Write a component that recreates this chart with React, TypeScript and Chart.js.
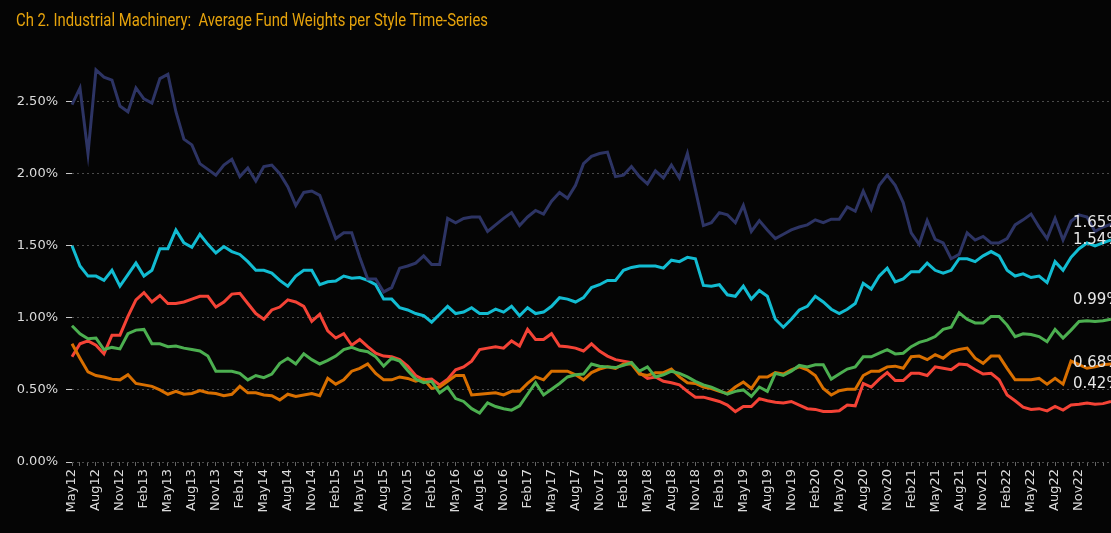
import React, { useEffect, useRef } from 'react';
import { Chart, registerables } from 'chart.js';

Chart.register(...registerables);

const TITLE = 'Ch 2. Industrial Machinery:  Average Fund Weights per Style Time-Series';

const MONTHS = [
  'May12', 'Jun12', 'Jul12', 'Aug12', 'Sep12', 'Oct12', 'Nov12', 'Dec12',
  'Jan13', 'Feb13', 'Mar13', 'Apr13', 'May13', 'Jun13', 'Jul13', 'Aug13', 'Sep13', 'Oct13', 'Nov13', 'Dec13',
  'Jan14', 'Feb14', 'Mar14', 'Apr14', 'May14', 'Jun14', 'Jul14', 'Aug14', 'Sep14', 'Oct14', 'Nov14', 'Dec14',
  'Jan15', 'Feb15', 'Mar15', 'Apr15', 'May15', 'Jun15', 'Jul15', 'Aug15', 'Sep15', 'Oct15', 'Nov15', 'Dec15',
  'Jan16', 'Feb16', 'Mar16', 'Apr16', 'May16', 'Jun16', 'Jul16', 'Aug16', 'Sep16', 'Oct16', 'Nov16', 'Dec16',
  'Jan17', 'Feb17', 'Mar17', 'Apr17', 'May17', 'Jun17', 'Jul17', 'Aug17', 'Sep17', 'Oct17', 'Nov17', 'Dec17',
  'Jan18', 'Feb18', 'Mar18', 'Apr18', 'May18', 'Jun18', 'Jul18', 'Aug18', 'Sep18', 'Oct18', 'Nov18', 'Dec18',
  'Jan19', 'Feb19', 'Mar19', 'Apr19', 'May19', 'Jun19', 'Jul19', 'Aug19', 'Sep19', 'Oct19', 'Nov19', 'Dec19',
  'Jan20', 'Feb20', 'Mar20', 'Apr20', 'May20', 'Jun20', 'Jul20', 'Aug20', 'Sep20', 'Oct20', 'Nov20', 'Dec20',
  'Jan21', 'Feb21', 'Mar21', 'Apr21', 'May21', 'Jun21', 'Jul21', 'Aug21', 'Sep21', 'Oct21', 'Nov21', 'Dec21',
  'Jan22', 'Feb22', 'Mar22', 'Apr22', 'May22', 'Jun22', 'Jul22', 'Aug22', 'Sep22', 'Oct22', 'Nov22', 'Dec22',
  'Jan23', 'Feb23', 'Mar23',
];

// Shown month labels (every third month up to Nov22)
const SHOWN_LABELS = [
  'May12', 'Aug12', 'Nov12', 'Feb13', 'May13', 'Aug13', 'Nov13', 'Feb14', 'May14', 'Aug14', 'Nov14',
  'Feb15', 'May15', 'Aug15', 'Nov15', 'Feb16', 'May16', 'Aug16', 'Nov16', 'Feb17', 'May17', 'Aug17', 'Nov17',
  'Feb18', 'May18', 'Aug18', 'Nov18', 'Feb19', 'May19', 'Aug19', 'Nov19', 'Feb20', 'May20', 'Aug20', 'Nov20',
  'Feb21', 'May21', 'Aug21', 'Nov21', 'Feb22', 'May22', 'Aug22', 'Nov22',
];

const Y_TICKS = [0, 0.5, 1, 1.5, 2, 2.5];

const NAVY_SERIES = [
  2.48, 2.595, 2.14, 2.72, 2.67, 2.65, 2.47, 2.43, 2.595, 2.52,
  2.49, 2.66, 2.69, 2.43, 2.24, 2.20, 2.07, 2.03, 1.99, 2.06,
  2.10, 1.98, 2.04, 1.95, 2.05, 2.06, 2.00, 1.91, 1.78, 1.87,
  1.88, 1.85, 1.70, 1.55, 1.59, 1.59, 1.42, 1.27, 1.27, 1.18,
  1.21, 1.345, 1.36, 1.38, 1.43, 1.37, 1.37, 1.69, 1.66, 1.69,
  1.70, 1.70, 1.60, 1.645, 1.69, 1.73, 1.64, 1.70, 1.745, 1.72,
  1.81, 1.87, 1.83, 1.92, 2.07, 2.12, 2.14, 2.15, 1.98, 1.99,
  2.05, 1.98, 1.93, 2.02, 1.97, 2.06, 1.97, 2.14, 1.89, 1.64,
  1.66, 1.73, 1.715, 1.66, 1.78, 1.60, 1.675, 1.61, 1.55, 1.58,
  1.61, 1.63, 1.645, 1.68, 1.66, 1.685, 1.685, 1.77, 1.74, 1.88,
  1.755, 1.92, 1.99, 1.92, 1.80, 1.59, 1.51, 1.675, 1.545, 1.52,
  1.41, 1.44, 1.59, 1.54, 1.565, 1.52, 1.52, 1.55, 1.645, 1.68,
  1.72, 1.63, 1.55, 1.69, 1.54, 1.67, 1.715, 1.70, 1.60, 1.63,
  1.65,
];

const CYAN_SERIES = [
  1.50, 1.36, 1.29, 1.29, 1.26, 1.33, 1.22, 1.30, 1.38, 1.29,
  1.33, 1.48, 1.48, 1.61, 1.52, 1.49, 1.58, 1.51, 1.45, 1.495,
  1.46, 1.44, 1.39, 1.33, 1.33, 1.31, 1.26, 1.22, 1.29, 1.33,
  1.33, 1.23, 1.25, 1.255, 1.29, 1.275, 1.28, 1.26, 1.23, 1.13,
  1.13, 1.07, 1.055, 1.03, 1.015, 0.97, 1.025, 1.08, 1.03, 1.04,
  1.07, 1.03, 1.03, 1.06, 1.04, 1.08, 1.015, 1.07, 1.03, 1.04,
  1.08, 1.14, 1.13, 1.11, 1.14, 1.21, 1.23, 1.26, 1.26, 1.33,
  1.35, 1.36, 1.36, 1.36, 1.345, 1.40, 1.39, 1.42, 1.41, 1.225,
  1.22, 1.23, 1.16, 1.15, 1.22, 1.13, 1.19, 1.15, 0.99, 0.935,
  0.99, 1.055, 1.08, 1.15, 1.11, 1.06, 1.03, 1.06, 1.10, 1.24,
  1.20, 1.29, 1.345, 1.25, 1.27, 1.32, 1.32, 1.38, 1.33, 1.31,
  1.33, 1.41, 1.41, 1.39, 1.43, 1.46, 1.43, 1.33, 1.29, 1.305,
  1.28, 1.29, 1.245, 1.39, 1.33, 1.42, 1.48, 1.52, 1.50, 1.52,
  1.54,
];

const GREEN_SERIES = [
  0.945, 0.89, 0.855, 0.86, 0.78, 0.795, 0.785, 0.89, 0.915, 0.92,
  0.82, 0.82, 0.80, 0.805, 0.79, 0.78, 0.77, 0.735, 0.63, 0.63,
  0.63, 0.615, 0.57, 0.60, 0.585, 0.61, 0.685, 0.72, 0.68, 0.75,
  0.71, 0.68, 0.705, 0.735, 0.78, 0.795, 0.775, 0.765, 0.73, 0.665,
  0.72, 0.70, 0.635, 0.575, 0.55, 0.56, 0.48, 0.52, 0.44, 0.42,
  0.37, 0.34, 0.41, 0.385, 0.37, 0.36, 0.39, 0.47, 0.55, 0.465,
  0.505, 0.545, 0.59, 0.605, 0.61, 0.68, 0.665, 0.66, 0.655, 0.67,
  0.69, 0.63, 0.66, 0.59, 0.605, 0.63, 0.615, 0.59, 0.56, 0.535,
  0.52, 0.495, 0.47, 0.49, 0.50, 0.455, 0.52, 0.49, 0.615, 0.60,
  0.63, 0.67, 0.66, 0.675, 0.675, 0.575, 0.61, 0.645, 0.66, 0.73,
  0.73, 0.755, 0.78, 0.75, 0.755, 0.80, 0.83, 0.845, 0.87, 0.92,
  0.935, 1.035, 0.99, 0.965, 0.965, 1.01, 1.01, 0.95, 0.87, 0.89,
  0.885, 0.87, 0.835, 0.92, 0.86, 0.915, 0.975, 0.98, 0.975, 0.98,
  0.99,
];

const ORANGE_SERIES = [
  0.82, 0.72, 0.625, 0.60, 0.59, 0.575, 0.57, 0.605, 0.545, 0.535,
  0.525, 0.50, 0.47, 0.49, 0.47, 0.475, 0.495, 0.48, 0.475, 0.46,
  0.47, 0.525, 0.48, 0.48, 0.465, 0.46, 0.43, 0.47, 0.455, 0.465,
  0.475, 0.46, 0.58, 0.54, 0.57, 0.63, 0.65, 0.68, 0.615, 0.57,
  0.57, 0.59, 0.58, 0.56, 0.575, 0.51, 0.52, 0.56, 0.60, 0.60,
  0.465, 0.47, 0.475, 0.48, 0.465, 0.49, 0.49, 0.545, 0.59, 0.57,
  0.63, 0.63, 0.63, 0.605, 0.57, 0.62, 0.645, 0.66, 0.65, 0.68,
  0.68, 0.61, 0.60, 0.62, 0.62, 0.645, 0.59, 0.55, 0.545, 0.52,
  0.51, 0.49, 0.475, 0.52, 0.555, 0.51, 0.59, 0.59, 0.62, 0.61,
  0.64, 0.66, 0.64, 0.60, 0.51, 0.465, 0.495, 0.505, 0.505, 0.60,
  0.63, 0.63, 0.66, 0.665, 0.65, 0.73, 0.735, 0.71, 0.745, 0.72,
  0.765, 0.78, 0.79, 0.72, 0.685, 0.735, 0.735, 0.65, 0.57, 0.57,
  0.57, 0.58, 0.54, 0.58, 0.54, 0.70, 0.675, 0.65, 0.66, 0.675,
  0.68,
];

const RED_SERIES = [
  0.73, 0.82, 0.84, 0.81, 0.75, 0.88, 0.88, 1.01, 1.125, 1.175,
  1.11, 1.155, 1.10, 1.10, 1.11, 1.13, 1.15, 1.15, 1.075, 1.11,
  1.165, 1.17, 1.10, 1.03, 0.99, 1.055, 1.075, 1.125, 1.11, 1.08,
  0.975, 1.025, 0.91, 0.86, 0.89, 0.81, 0.85, 0.80, 0.755, 0.735,
  0.73, 0.71, 0.665, 0.60, 0.57, 0.575, 0.535, 0.575, 0.64, 0.66,
  0.70, 0.78, 0.79, 0.80, 0.79, 0.84, 0.805, 0.92, 0.85, 0.85,
  0.89, 0.805, 0.80, 0.79, 0.77, 0.82, 0.77, 0.735, 0.71, 0.70,
  0.69, 0.62, 0.58, 0.59, 0.56, 0.55, 0.535, 0.49, 0.45, 0.45,
  0.435, 0.42, 0.395, 0.35, 0.385, 0.385, 0.44, 0.425, 0.415, 0.41,
  0.42, 0.395, 0.37, 0.365, 0.35, 0.35, 0.355, 0.395, 0.39, 0.545,
  0.52, 0.575, 0.62, 0.565, 0.565, 0.615, 0.615, 0.60, 0.66, 0.65,
  0.64, 0.68, 0.675, 0.64, 0.61, 0.615, 0.57, 0.465, 0.425, 0.38,
  0.365, 0.37, 0.355, 0.385, 0.36, 0.395, 0.40, 0.41, 0.40, 0.405,
  0.42,
];

const SERIES_NAMES = ['Style 1', 'Style 2', 'Style 3', 'Style 4', 'Style 5'];

const TICK_FONT = "'DejaVu Sans', sans-serif";
const TITLE_FONT = "Roboto, sans-serif";
const TITLE_TARGET_WIDTH = 472;

const bgAndTitle = {
  id: 'bgAndTitle',
  beforeDraw(chart: any) {
    const { ctx, width, height } = chart;
    ctx.save();
    ctx.fillStyle = '#050505';
    ctx.fillRect(0, 0, width, height);
    ctx.font = `19px ${TITLE_FONT}`;
    ctx.fillStyle = '#e6a30c';
    ctx.textBaseline = 'middle';
    ctx.textAlign = 'left';
    const w = ctx.measureText(TITLE).width;
    const sx = w > 0 ? TITLE_TARGET_WIDTH / w : 1;
    ctx.translate(16, 21);
    ctx.scale(sx, 1);
    ctx.fillText(TITLE, 0, 0);
    ctx.restore();
  },
};

const endLabels = {
  id: 'endLabels',
  afterDatasetsDraw(chart: any) {
    const { ctx } = chart;
    ctx.save();
    ctx.font = `15px ${TICK_FONT}`;
    ctx.fillStyle = '#e8e8e8';
    ctx.textBaseline = 'middle';
    ctx.textAlign = 'left';
    chart.data.datasets.forEach((ds: any, di: number) => {
      const meta = chart.getDatasetMeta(di);
      const pt = meta.data[meta.data.length - 1];
      const v = ds.data[ds.data.length - 1];
      ctx.fillText(v.toFixed(2) + '%', pt.x - 38, pt.y + (ds.labelDy || 0));
    });
    ctx.restore();
  },
};

export default function App() {
  const canvasRef = useRef<HTMLCanvasElement | null>(null);

  useEffect(() => {
    document.body.style.margin = '0';
    document.body.style.background = '#050505';
    const canvas = canvasRef.current;
    if (!canvas) return;

    const mk = (label: string, data: number[], color: string, labelDy: number) => ({
      label,
      data,
      borderColor: color,
      backgroundColor: color,
      borderWidth: 3,
      pointRadius: 0,
      pointHoverRadius: 0,
      tension: 0,
      fill: false,
      labelDy,
    });

    const chart = new Chart(canvas, {
      type: 'line',
      data: {
        labels: MONTHS,
        datasets: [
          mk(SERIES_NAMES[0], NAVY_SERIES, '#2d3464', -1),
          mk(SERIES_NAMES[1], CYAN_SERIES, '#12bcd2', 0),
          mk(SERIES_NAMES[2], GREEN_SERIES, '#4caf50', -19),
          mk(SERIES_NAMES[3], ORANGE_SERIES, '#d86f00', -1),
          mk(SERIES_NAMES[4], RED_SERIES, '#f44336', -17),
        ] as any,
      },
      options: {
        responsive: false,
        animation: false,
        maintainAspectRatio: false,
        layout: { padding: { top: 44, left: 0, right: 0, bottom: 0 } },
        plugins: {
          legend: { display: false },
          title: { display: false },
          tooltip: { enabled: false },
        },
        scales: {
          x: {
            type: 'category',
            offset: false,
            grid: {
              display: true,
              drawOnChartArea: false,
              drawTicks: true,
              tickLength: 4,
              tickColor: '#666',
            },
            border: { display: false },
            ticks: {
              autoSkip: false,
              minRotation: 90,
              maxRotation: 90,
              padding: 3,
              color: '#dcdcdc',
              font: { family: TICK_FONT, size: 13 },
              callback: (_v: any, i: number) =>
                SHOWN_LABELS.includes(MONTHS[i]) ? MONTHS[i] : '',
            },
            afterFit: (scale: any) => {
              scale.height = 71;
              scale.paddingLeft = 0;
              scale.paddingRight = 0;
            },
          },
          y: {
            min: 0,
            max: 2.9,
            grid: {
              color: '#4a4a4a',
              lineWidth: 1,
              drawTicks: true,
              tickLength: 6,
              tickColor: '#c8c8c8',
            },
            border: { display: false, dash: [2, 3] },
            ticks: {
              padding: 8,
              color: '#dcdcdc',
              font: { family: TICK_FONT, size: 13 },
              callback: (v: any) => Number(v).toFixed(2) + '%',
            },
            afterBuildTicks: (scale: any) => {
              scale.ticks = Y_TICKS.map((value) => ({ value }));
            },
            afterFit: (scale: any) => {
              scale.width = 72;
              scale.paddingTop = 0;
              scale.paddingBottom = 0;
            },
          },
        },
      },
      plugins: [bgAndTitle, endLabels],
    } as any);

    return () => chart.destroy();
  }, []);

  return (
    <div style={{ width: 1111, height: 533, background: '#050505' }}>
      <canvas ref={canvasRef} width={1111} height={533} />
    </div>
  );
}
